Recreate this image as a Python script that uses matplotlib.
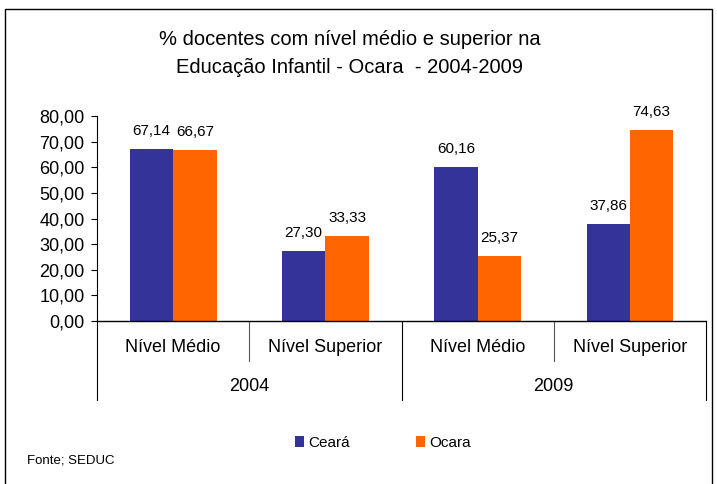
import matplotlib
matplotlib.use("Agg")
import matplotlib.pyplot as plt
from matplotlib.patches import Rectangle
from matplotlib.ticker import FuncFormatter

plt.rcParams["font.family"] = ["Liberation Sans", "DejaVu Sans"]

BLUE = "#333399"
ORANGE = "#FF6600"

categorias = ["Nível Médio", "Nível Superior", "Nível Médio", "Nível Superior"]
anos = ["2004", "2009"]
ceara = [67.14, 27.30, 60.16, 37.86]
ocara = [66.67, 33.33, 25.37, 74.63]
series = ["Ceará", "Ocara"]
yticks = [0, 10, 20, 30, 40, 50, 60, 70, 80]

def br(v):
    return f"{v:.2f}".replace(".", ",")

fig = plt.figure(figsize=(7.17, 4.84), dpi=100)
ax = fig.add_axes([0.1353, 0.3368, 0.8494, 0.4235])

x = list(range(len(categorias)))
w = 0.285
b1 = ax.bar([i - w / 2 for i in x], ceara, width=w, color=BLUE, label=series[0])
b2 = ax.bar([i + w / 2 for i in x], ocara, width=w, color=ORANGE, label=series[1])
for bars, vals in ((b1, ceara), (b2, ocara)):
    for b, v in zip(bars, vals):
        ax.annotate(br(v), (b.get_x() + b.get_width() / 2, v), xytext=(0, 13),
                    textcoords="offset points", ha="center", va="center", fontsize=11)

ax.set_xlim(-0.5, len(categorias) - 0.5)
ax.set_ylim(0, 80)
ax.set_yticks(yticks)
ax.yaxis.set_major_formatter(FuncFormatter(lambda v, _: br(v)))
ax.tick_params(axis="y", labelsize=13, length=4, pad=5, direction="out")
ax.set_xticks([])
for s in ("top", "right"):
    ax.spines[s].set_visible(False)
ax.spines["left"].set_linewidth(0.8)
ax.spines["bottom"].set_linewidth(1.0)

# multi-level category axis
tr = ax.get_xaxis_transform()
for i, c in enumerate(categorias):
    ax.text(i, -0.127, c, transform=tr, ha="center", va="center", fontsize=13)
for k, a in enumerate(anos):
    ax.text(2 * k + 0.5, -0.322, a, transform=tr, ha="center", va="center", fontsize=13)
for xs in (-0.5, 1.5, 3.5):
    ax.plot([xs, xs], [0, -0.385], transform=tr, color="black", lw=0.8, clip_on=False)
for xs in (0.5, 2.5):
    ax.plot([xs, xs], [0, -0.195], transform=tr, color="#555555", lw=0.8, clip_on=False)

fig.text(0.488, 0.890, "% docentes com nível médio e superior na\nEducação Infantil - Ocara  - 2004-2009",
         ha="center", va="center", fontsize=14.5, linespacing=1.6)

fig.legend(loc="center", bbox_to_anchor=(0.534, 0.085), ncol=2, frameon=False, fontsize=11,
           handlelength=0.6, handleheight=0.7, handletextpad=0.3, columnspacing=4.3)
fig.text(0.038, 0.049, "Fonte; SEDUC", ha="left", va="center", fontsize=9.5)

fig.patches.append(Rectangle((0.007, -0.02), 0.986, 1.001, transform=fig.transFigure,
                             fill=False, edgecolor="black", lw=1.0))

fig.savefig("out.png", dpi=100)
